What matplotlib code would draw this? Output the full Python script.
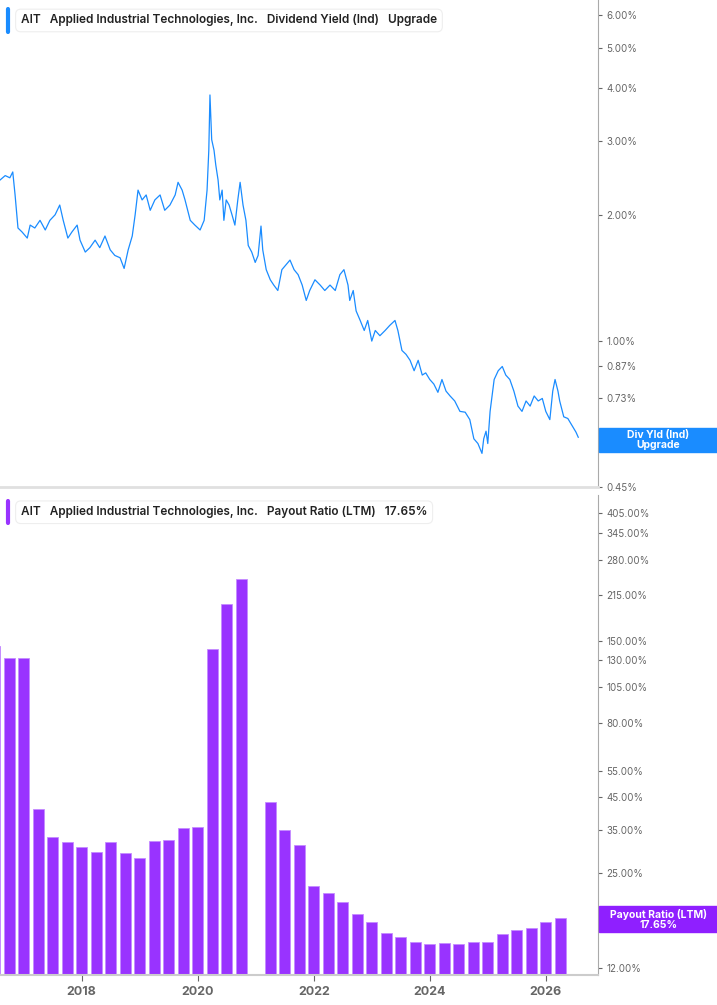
import numpy as np
import matplotlib.pyplot as plt
from matplotlib.ticker import FixedLocator, NullLocator

plt.rcParams['font.family'] = ['Inter', 'DejaVu Sans']

# Dividend yield (Ind), %
yld_dates = [2016.59, 2016.68, 2016.76, 2016.81, 2016.85, 2016.90, 2016.97, 2017.06, 2017.11, 2017.19,
             2017.28, 2017.37, 2017.45, 2017.54, 2017.62, 2017.68, 2017.76, 2017.83, 2017.92, 2017.97,
             2018.06, 2018.14, 2018.23, 2018.31, 2018.40, 2018.49, 2018.57, 2018.66, 2018.73, 2018.80,
             2018.87, 2018.92, 2018.97, 2019.04, 2019.11, 2019.18, 2019.26, 2019.35, 2019.43, 2019.52,
             2019.61, 2019.66, 2019.73, 2019.78, 2019.87, 2019.95, 2020.04, 2020.11, 2020.16, 2020.19,
             2020.21, 2020.24, 2020.28, 2020.31, 2020.35, 2020.38, 2020.42, 2020.45, 2020.49, 2020.54,
             2020.59, 2020.64, 2020.69, 2020.73, 2020.78, 2020.83, 2020.87, 2020.93, 2020.99, 2021.04,
             2021.09, 2021.12, 2021.18, 2021.25, 2021.31, 2021.38, 2021.45, 2021.52, 2021.59, 2021.66,
             2021.73, 2021.80, 2021.87, 2021.93, 2022.02, 2022.11, 2022.19, 2022.28, 2022.37, 2022.45,
             2022.52, 2022.59, 2022.62, 2022.68, 2022.73, 2022.80, 2022.87, 2022.93, 2023.00, 2023.06,
             2023.14, 2023.23, 2023.31, 2023.40, 2023.45, 2023.52, 2023.59, 2023.66, 2023.73, 2023.80,
             2023.87, 2023.93, 2024.00, 2024.07, 2024.14, 2024.21, 2024.28, 2024.35, 2024.43, 2024.52,
             2024.61, 2024.69, 2024.76, 2024.83, 2024.90, 2024.93, 2024.97, 2025.00, 2025.04, 2025.11,
             2025.18, 2025.25, 2025.31, 2025.38, 2025.45, 2025.52, 2025.59, 2025.66, 2025.73, 2025.80,
             2025.87, 2025.94, 2026.00, 2026.07, 2026.12, 2026.16, 2026.21, 2026.24, 2026.31, 2026.38,
             2026.45, 2026.52, 2026.56]
yld_values = [2.42, 2.48, 2.45, 2.53, 2.23, 1.86, 1.82, 1.76, 1.89, 1.86,
              1.94, 1.84, 1.94, 2.00, 2.11, 1.94, 1.76, 1.82, 1.89, 1.74,
              1.63, 1.67, 1.74, 1.67, 1.78, 1.65, 1.60, 1.58, 1.49, 1.65,
              1.78, 2.00, 2.29, 2.17, 2.23, 2.05, 2.17, 2.23, 2.05, 2.11,
              2.23, 2.39, 2.29, 2.17, 1.94, 1.89, 1.84, 1.94, 2.29, 2.85,
              3.86, 3.02, 2.85, 2.63, 2.42, 2.17, 2.29, 1.94, 2.17, 2.11,
              2.00, 1.89, 2.17, 2.39, 2.11, 1.94, 1.69, 1.63, 1.54, 1.60,
              1.88, 1.65, 1.48, 1.40, 1.36, 1.32, 1.48, 1.52, 1.56, 1.48,
              1.44, 1.36, 1.25, 1.32, 1.40, 1.36, 1.32, 1.36, 1.32, 1.44,
              1.48, 1.36, 1.25, 1.32, 1.18, 1.12, 1.06, 1.12, 1.00, 1.06,
              1.03, 1.06, 1.09, 1.12, 1.06, 0.95, 0.93, 0.90, 0.85, 0.90,
              0.83, 0.84, 0.81, 0.79, 0.755, 0.81, 0.76, 0.74, 0.72, 0.68,
              0.677, 0.65, 0.585, 0.57, 0.54, 0.585, 0.61, 0.57, 0.68, 0.81,
              0.85, 0.87, 0.83, 0.81, 0.76, 0.70, 0.68, 0.72, 0.70, 0.74,
              0.72, 0.73, 0.68, 0.65, 0.76, 0.81, 0.76, 0.72, 0.66, 0.654,
              0.63, 0.607, 0.59]

# Payout ratio (LTM), % -- quarterly
pay_dates = [2016.50, 2016.75, 2017.00, 2017.25, 2017.50, 2017.75, 2018.00, 2018.25, 2018.50, 2018.75,
             2019.00, 2019.25, 2019.50, 2019.75, 2020.00, 2020.25, 2020.50, 2020.75,
             2021.25, 2021.50, 2021.75, 2022.00, 2022.25, 2022.50, 2022.75, 2023.00, 2023.25, 2023.50,
             2023.75, 2024.00, 2024.25, 2024.50, 2024.75, 2025.00, 2025.25, 2025.50, 2025.75, 2026.00,
             2026.25]
pay_values = [145, 132, 132, 41.0, 33.0, 31.7, 30.5, 29.4, 31.8, 29.2,
              28.0, 32.0, 32.3, 35.3, 35.6, 141.7, 200, 243,
              43.2, 34.8, 31.0, 22.6, 21.4, 20.0, 18.3, 17.1, 15.7, 15.3,
              14.7, 14.5, 14.6, 14.5, 14.7, 14.7, 15.6, 16.1, 16.4, 17.2,
              17.65]

top_ticks = [0.45, 0.59, 0.73, 0.87, 1.0, 2.0, 3.0, 4.0, 5.0, 6.0]
bot_ticks = [12, 17, 25, 35, 45, 55, 80, 105, 130, 150, 215, 280, 345, 405]
year_ticks = [2018, 2020, 2022, 2024, 2026]

blue = '#1a8cff'
purple = '#9933ff'
gray = '#666666'

fig = plt.figure(figsize=(7.17, 10.05), dpi=100)
ax1 = fig.add_axes([0.0, 0.515, 0.834, 0.485])
ax2 = fig.add_axes([0.0, 0.030, 0.834, 0.477])

for ax in (ax1, ax2):
    ax.set_yscale('log')
    ax.set_xlim(2016.59, 2026.9)
    ax.yaxis.tick_right()
    ax.yaxis.set_minor_locator(NullLocator())
    ax.tick_params(axis='y', colors=gray, labelsize=7, length=3, direction='out', pad=3)
    for s in ('top', 'left'):
        ax.spines[s].set_visible(False)
    ax.spines['right'].set_color('#aaaaaa')
    ax.spines['bottom'].set_color('#cccccc')

# top panel
ax1.plot(yld_dates, yld_values, color=blue, lw=0.9)
ax1.set_ylim(0.448, 6.5)
ax1.yaxis.set_major_locator(FixedLocator(top_ticks))
ax1.set_yticklabels([f'{t:.2f}%' for t in top_ticks])
ax1.set_xticks([])
ax1.spines['bottom'].set_color('#e0e0e0')
ax1.spines['bottom'].set_linewidth(2)

# bottom panel
ax2.bar(pay_dates, pay_values, width=0.19, color=purple, edgecolor='#c58cff', linewidth=0.6)
ax2.set_ylim(11.4, 462)
ax2.yaxis.set_major_locator(FixedLocator(bot_ticks))
ax2.set_yticklabels([f'{t:.2f}%' for t in bot_ticks])
ax2.set_xticks(year_ticks)
ax2.set_xticklabels([str(y) for y in year_ticks], fontweight='bold')
ax2.tick_params(axis='x', colors=gray, labelsize=9, length=4, pad=4)
ax2.spines['bottom'].set_linewidth(1.5)

def legend_box(ax, ypos, text_parts, color):
    x = 0.035
    t = ax.text(x, ypos, '   '.join(text_parts), transform=ax.transAxes, fontsize=8.5,
                color='#222222', va='center', ha='left', fontweight='semibold',
                bbox=dict(boxstyle='round,pad=0.45', fc='white', ec='#eeeeee', lw=0.8))
    ax.plot([0.014, 0.014], [ypos - 0.023, ypos + 0.023], transform=ax.transAxes,
            color=color, lw=3, solid_capstyle='round', clip_on=False)
    return t

legend_box(ax1, 0.958, ['AIT', 'Applied Industrial Technologies, Inc.', 'Dividend Yield (Ind)', 'Upgrade'], blue)
legend_box(ax2, 0.965, ['AIT', 'Applied Industrial Technologies, Inc.', 'Payout Ratio (LTM)', '17.65%'], purple)

# right-side value labels
fig.patches.append(plt.Rectangle((0.836, 1 - 452 / 1005), 0.164, 24 / 1005, transform=fig.transFigure,
                                 color=blue, zorder=5))
fig.text(0.918, 1 - 440 / 1005, 'Div Yld (Ind)\nUpgrade', color='white', fontsize=7.5, ha='center',
         va='center', fontweight='bold', linespacing=1.0, zorder=6)
fig.patches.append(plt.Rectangle((0.836, 1 - 932 / 1005), 0.164, 26 / 1005, transform=fig.transFigure,
                                 color='#8f1fff', zorder=5))
fig.text(0.918, 1 - 919 / 1005, 'Payout Ratio (LTM)\n17.65%', color='white', fontsize=7.5, ha='center',
         va='center', fontweight='bold', linespacing=1.0, zorder=6)

fig.savefig('out.png', dpi=100)
